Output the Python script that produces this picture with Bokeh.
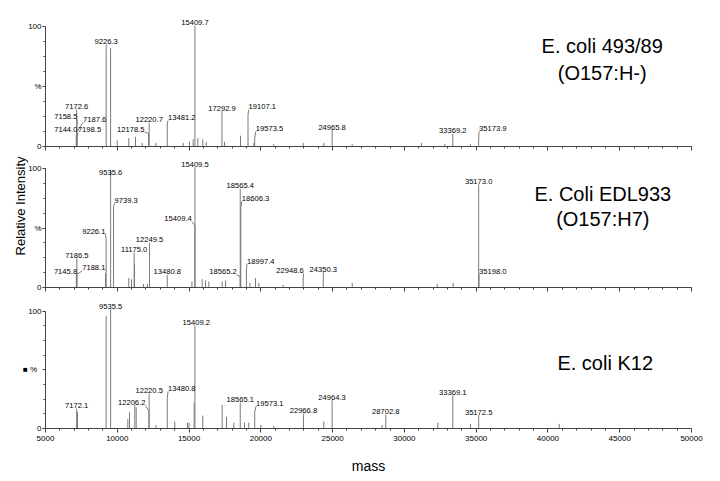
from bokeh.plotting import figure
from bokeh.layouts import column
from bokeh.models import Range1d, FixedTicker, Label, Title
from bokeh.core.properties import value
from bokeh.embed import file_html
from bokeh.resources import INLINE

# ---------------- data (mass, relative intensity %) ----------------
# Panel 1: E. coli 493/89 (O157:H-)
p1_peak_mass = [15409.7, 9226.3, 7172.6, 7158.5, 7187.6, 7144.0, 7198.5, 12178.5, 12220.7,
                13481.2, 17292.9, 19107.1, 19573.5, 24965.8, 33369.2, 35173.9]
p1_peak_int = [100, 84, 18, 14, 12, 9, 8, 11, 19, 19, 29, 26, 7, 14, 9.5, 5]
p1_minor_mass = [9535, 9995, 10803, 11270, 11735, 12686, 14592, 15031, 15288, 15612, 15958,
                 16195, 17469, 18584, 19512, 20903, 22950, 24387, 26364, 31190, 32815, 34605]
p1_minor_int = [82, 5, 7, 8, 3, 3, 3, 4, 6, 7, 6, 4, 4, 9, 3, 2, 3, 3, 2, 3, 2, 2]

# Panel 2: E. Coli EDL933 (O157:H7)
p2_peak_mass = [15409.5, 9535.6, 9739.3, 15409.4, 9226.1, 7186.5, 7145.8, 7188.1, 11175.0,
                12249.5, 13480.8, 18565.4, 18606.3, 18565.2, 18997.4, 22948.6, 24350.3,
                35173.0, 35198.0]
p2_peak_int = [100, 98, 68, 52, 40, 14, 9, 11, 28, 37, 9.5, 81, 67, 9, 16, 8, 12, 85, 4]
p2_minor_mass = [9180, 10800, 10990, 11200, 11830, 12100, 15200, 15916, 16146, 16376, 17307,
                 17540, 19235, 19630, 19860, 21555, 26364, 32290, 33400]
p2_minor_int = [12, 8, 7, 20, 3, 3, 5, 7, 6, 5, 5, 6, 4, 8, 4, 2, 4, 3, 4]

# Panel 3: E. coli K12
p3_peak_mass = [9535.5, 15409.2, 7172.1, 12206.2, 12220.5, 13480.8, 18565.1, 19573.1,
                22966.8, 24964.3, 28702.8, 33369.1, 35172.5]
p3_peak_int = [100, 87, 16, 15, 28, 26, 21, 14, 11, 24, 11, 28, 11]
p3_minor_mass = [9226, 7230, 10735, 10852, 11220, 11318, 12700, 14008, 14892, 15000, 15355,
                 15958, 17307, 17610, 18117, 18862, 19162, 20000, 20903, 24387, 28450,
                 32330, 34605, 40790]
p3_minor_int = [96, 14, 8, 14, 20, 18, 3, 6, 5, 5, 22, 11, 20, 10, 5, 5, 5, 3, 2, 6, 3,
                5, 4, 4]

x_ticks = [5000, 10000, 15000, 20000, 25000, 30000, 35000, 40000, 45000, 50000]

# ---------------- label layout (side, label x in mass units, label y in %) -------------
# side "c": label centred above the peak; "l": label to the left; "r": label to the right
p1_layout = [("c", None, 103.3), ("c", None, 87.3), ("c", None, 33.3), ("l", 6414, 25.0),
             ("r", 8427, 22.8), ("l", 6414, 13.9), ("r", 8065, 13.9), ("l", 10942, 14.5),
             ("c", None, 22.3), ("r", 14495, 24.2), ("c", None, 32.0), ("r", 20102, 33.1),
             ("r", 20604, 15.0), ("c", None, 16.2), ("c", None, 13.1), ("r", 36159, 15.0)]
p2_layout = [("c", None, 103.6), ("c", None, 96.6), ("r", 10622, 73.4), ("l", 14230, 58.0),
             ("l", 8365, 47.3), ("c", None, 27.1), ("l", 6393, 13.1), ("r", 8365, 16.5),
             ("c", None, 31.9), ("c", None, 40.3), ("c", None, 13.1), ("c", None, 85.4),
             ("r", 19629, 74.8), ("l", 17365, 13.3), ("r", 19998, 22.1), ("l", 22032, 14.5),
             ("c", None, 15.4), ("c", None, 89.3), ("r", 36159, 13.7)]
p3_layout = [("c", None, 104.2), ("c", 15500, 90.3), ("c", None, 19.5), ("l", 11005, 21.8),
             ("c", None, 32.1), ("r", 14495, 34.1), ("c", None, 24.6), ("r", 20625, 21.5),
             ("c", None, 15.3), ("c", None, 26.8), ("c", None, 14.5), ("c", None, 31.0),
             ("c", None, 14.0)]

FONT = "Liberation Sans"
LFS = 7.6            # peak label font size, px
PX_X = 45000 / 646   # mass units per pixel
PEAK_COLOR = "#7a7a7a"
AXIS_COLOR = "#444444"


def label_text(m):
    return f"{m:.1f}"


def make_panel(pm, pi_, layout, mm, mi, y_end, px_per_pct, height, top, bottom, last,
               pct_text="%"):
    p = figure(width=712, height=height, x_range=Range1d(5000, 50000),
               y_range=Range1d(0, y_end), output_backend="svg", toolbar_location=None,
               min_border_left=45, min_border_right=21, min_border_top=top,
               min_border_bottom=bottom)
    p.outline_line_color = None
    p.grid.visible = False
    p.background_fill_color = "white"
    p.border_fill_color = "white"

    # sticks
    allm = list(mm) + list(pm)
    alli = list(mi) + list(pi_)
    p.segment(x0=allm, y0=[0] * len(allm), x1=allm, y1=alli, line_color=PEAK_COLOR,
              line_width=1)

    # labels and leaders
    texts, lxs, lys = [], [], []
    lx0, ly0, lx1, ly1 = [], [], [], []
    halfh = 3.0 / px_per_pct
    for m, h, (side, lx, ly) in zip(pm, pi_, layout):
        t = label_text(m)
        ndig = sum(c.isdigit() for c in t)
        halfw = (ndig * 0.556 + 0.278) * LFS / 2 * PX_X
        if lx is None:
            lx = m
        texts.append(t)
        lxs.append(lx)
        lys.append(ly)
        if side == "c":
            ax = m
        elif side == "l":
            ax = lx + halfw
        else:
            ax = lx - halfw
        lx0.append(ax)
        ly0.append(ly - halfh)
        lx1.append(m)
        ly1.append(h)
    p.segment(x0=lx0, y0=ly0, x1=lx1, y1=ly1, line_color=PEAK_COLOR, line_width=1)
    p.text(x=lxs, y=lys, text=texts, text_font=value(FONT), text_font_size=f"{LFS}px",
           text_align="center", text_baseline="middle", text_color="black")

    # axes
    xa = p.xaxis[0]
    xa.ticker = FixedTicker(ticks=x_ticks, minor_ticks=list(range(5000, 50001, 1000)))
    xa.bounds = (5000, 50000)
    xa.axis_line_color = AXIS_COLOR
    xa.major_tick_line_color = AXIS_COLOR
    xa.minor_tick_line_color = AXIS_COLOR
    xa.major_tick_in = 0
    xa.major_tick_out = 4
    xa.minor_tick_in = 0
    xa.minor_tick_out = 2
    xa.major_label_text_font = FONT
    if last:
        xa.major_label_text_color = "black"
        xa.major_label_text_font_size = "8px"
        xa.major_label_standoff = 3
        xa.axis_label = "mass"
        xa.axis_label_text_font = FONT
        xa.axis_label_text_font_size = "14px"
        xa.axis_label_text_font_style = "normal"
        xa.axis_label_text_color = "black"
        xa.axis_label_standoff = 14
    else:
        xa.major_label_text_color = None
        xa.major_label_text_font_size = "0px"
        xa.major_label_standoff = 0

    ya = p.yaxis[0]
    ya.ticker = FixedTicker(ticks=[0, 50, 100], minor_ticks=[12.5 * i for i in range(9)])
    ya.bounds = (0, 100)
    ya.major_label_overrides = {0: "0", 50: pct_text, 100: "100"}
    ya.axis_line_color = AXIS_COLOR
    ya.major_tick_line_color = AXIS_COLOR
    ya.minor_tick_line_color = AXIS_COLOR
    ya.major_tick_in = 0
    ya.major_tick_out = 3
    ya.minor_tick_in = 0
    ya.minor_tick_out = 2
    ya.major_label_standoff = 1
    ya.major_label_text_font = FONT
    ya.major_label_text_font_size = "8px"
    ya.major_label_text_color = "black"
    return p


p1 = make_panel(p1_peak_mass, p1_peak_int, p1_layout, p1_minor_mass, p1_minor_int,
                112.5, 1.2, 155, 11, 9, False)
p2 = make_panel(p2_peak_mass, p2_peak_int, p2_layout, p2_minor_mass, p2_minor_int,
                110.1, 1.19, 141, 1, 9, False)
p3 = make_panel(p3_peak_mass, p3_peak_int, p3_layout, p3_minor_mass, p3_minor_int,
                111.5, 1.193, 180, 1, 46, True, pct_text="\u25a0   %")


def title(p, txt, x, y):
    p.add_layout(Label(x=x, y=y, text=txt, text_font=FONT, text_font_size="20px",
                       text_align="center", text_baseline="middle", text_color="black"))


title(p1, "E. coli 493/89", 43780, 83.9)
title(p1, "(O157:H-)", 43780, 61.4)
title(p2, "E. Coli EDL933", 43822, 78.7)
title(p2, "(O157:H7)", 43822, 57.7)
title(p3, "E. coli K12", 43990, 55.9)

p2.add_layout(Title(text="Relative Intensity", align="right", offset=0, standoff=-4,
                    text_font=FONT, text_font_size="13px", text_font_style="normal",
                    text_color="black"), "left")

layout = column(p1, p2, p3)
open("out.html", "w").write(file_html(layout, INLINE))
